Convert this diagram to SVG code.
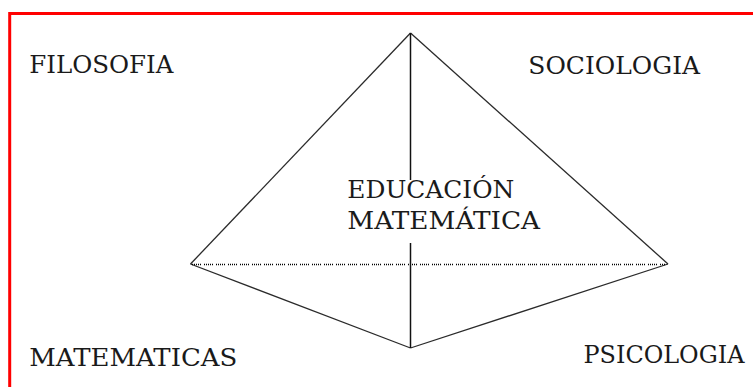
<svg xmlns="http://www.w3.org/2000/svg" width="753" height="387" viewBox="0 0 753 387">
<style>
.lbl{font-family:"DejaVu Serif","Liberation Serif",serif;font-size:25px;fill:#1a1a1a}
.edge{stroke:#2a2a2a;stroke-width:1.3;fill:none}
</style>
<rect x="0" y="0" width="753" height="387" fill="#ffffff"/>
<rect x="9.7" y="13.5" width="800" height="420" fill="none" stroke="#ff0000" stroke-width="3"/>
<g id="connectors">
<line class="edge" x1="410.5" y1="33" x2="190.5" y2="264"/>
<line class="edge" x1="410.5" y1="33" x2="668" y2="264"/>
<line class="edge" x1="190.5" y1="264" x2="410.5" y2="348"/>
<line class="edge" x1="668" y1="264" x2="410.5" y2="348"/>
<line x1="192" y1="264.5" x2="666" y2="264.5" stroke="#000" stroke-width="1.3" stroke-dasharray="1 1 1 1 1 1 1 1 1 3"/>
<line x1="410.5" y1="33" x2="410.5" y2="180" stroke="#111" stroke-width="1.5"/>
<line x1="410.5" y1="243" x2="410.5" y2="348" stroke="#111" stroke-width="1.5"/>
</g>
<g id="filosofia"><text class="lbl" x="29.3" y="72.7" textLength="144" lengthAdjust="spacingAndGlyphs">FILOSOFIA</text></g>
<g id="sociologia"><text class="lbl" x="528.3" y="74" textLength="171.7" lengthAdjust="spacingAndGlyphs">SOCIOLOGIA</text></g>
<g id="matematicas"><text class="lbl" x="29.3" y="366" textLength="208" lengthAdjust="spacingAndGlyphs">MATEMATICAS</text></g>
<g id="psicologia"><text class="lbl" x="583.5" y="363.3" textLength="161" lengthAdjust="spacingAndGlyphs">PSICOLOGIA</text></g>
<g id="educacion">
<text class="lbl" x="347.3" y="197.7" textLength="167" lengthAdjust="spacingAndGlyphs">EDUCACIÓN</text>
<text class="lbl" x="347.3" y="229.3" textLength="192.7" lengthAdjust="spacingAndGlyphs">MATEMÁTICA</text>
</g>
</svg>
